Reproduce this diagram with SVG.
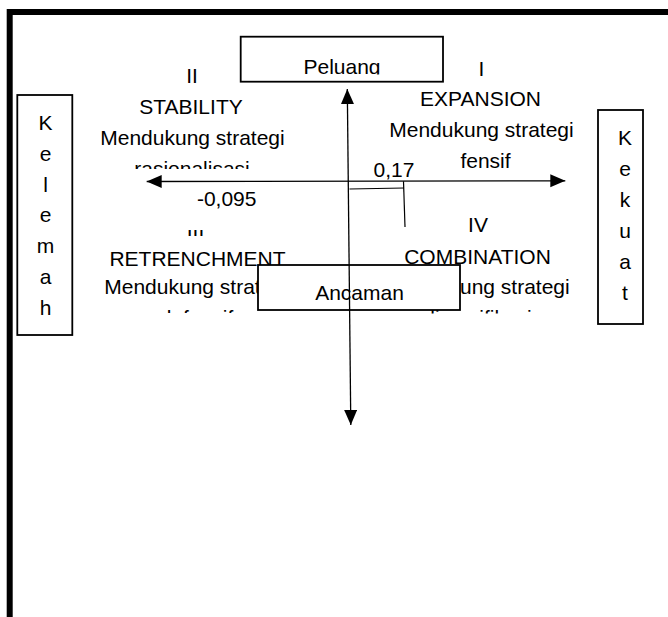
<svg xmlns="http://www.w3.org/2000/svg" width="668" height="617" viewBox="0 0 668 617">
<style>
  text { font-family: "Liberation Sans", Arial, sans-serif; font-size: 21px; fill: #000; text-anchor: middle; }
  .box { fill: #fff; stroke: #000; stroke-width: 1.8; }
  .axis { fill: none; stroke: #000; stroke-width: 1.3; }
  .thin { fill: none; stroke: #000; stroke-width: 1.2; }
</style>
<defs>
  <marker id="head" markerUnits="userSpaceOnUse" markerWidth="16" markerHeight="14" refX="15" refY="6.5" orient="auto-start-reverse">
    <path d="M0,0 L15,6.5 L0,13 Z" fill="#000"/>
  </marker>
  <clipPath id="clipII"><rect x="80" y="60" width="240" height="109"/></clipPath>
  <clipPath id="clipIII"><rect x="80" y="230" width="240" height="83"/></clipPath>
  <clipPath id="clipIV"><rect x="370" y="200" width="230" height="113.5"/></clipPath>
  <clipPath id="clipP"><rect x="242" y="38" width="200" height="36.5"/></clipPath>
</defs>
<rect x="0" y="0" width="668" height="617" fill="#fff"/>

<g id="frame">
  <path d="M9.7,620 V12 H672" fill="none" stroke="#000" stroke-width="6" stroke-linejoin="miter"/>
</g>

<g id="quadrant-II" clip-path="url(#clipII)">
  <text x="192" y="83">II</text>
  <text x="191" y="114">STABILITY</text>
  <text x="192.5" y="145">Mendukung strategi</text>
  <text x="192" y="176">rasionalisasi</text>
</g>

<g id="quadrant-I">
  <text x="481.5" y="76">I</text>
  <text x="480.5" y="106">EXPANSION</text>
  <text x="481.5" y="137">Mendukung strategi</text>
  <text x="485.5" y="168">fensif</text>
</g>

<g id="quadrant-III" clip-path="url(#clipIII)">
  <text x="195.5" y="236">III</text>
  <text x="197.5" y="266">RETRENCHMENT</text>
  <text x="196.5" y="294">Mendukung strategi</text>
  <text x="196.5" y="325">defensif</text>
</g>

<g id="quadrant-IV" clip-path="url(#clipIV)">
  <text x="478" y="232">IV</text>
  <text x="477.5" y="264">COMBINATION</text>
  <text x="477.5" y="294">Mendukung strategi</text>
  <text x="477.5" y="325">diversifikasi</text>
</g>

<g id="node-peluang">
  <rect class="box" x="240.7" y="36.7" width="202.3" height="45"/>
  <text x="342" y="74" clip-path="url(#clipP)">Peluang</text>
</g>

<g id="node-ancaman">
  <rect class="box" x="258" y="265" width="202" height="45"/>
  <text x="359.5" y="300">Ancaman</text>
</g>

<g id="node-kelemah">
  <rect class="box" x="17.3" y="95" width="55" height="240"/>
  <text x="45.5" y="130">K</text>
  <text x="45.5" y="160.8">e</text>
  <text x="45.5" y="191.5">l</text>
  <text x="45.5" y="222.3">e</text>
  <text x="45.5" y="253">m</text>
  <text x="45.5" y="283.8">a</text>
  <text x="45.5" y="314.5">h</text>
</g>

<g id="node-kekuat">
  <rect class="box" x="598" y="110" width="45" height="214"/>
  <text x="625" y="145">K</text>
  <text x="625" y="176">e</text>
  <text x="625" y="207">k</text>
  <text x="625" y="238">u</text>
  <text x="625" y="269">a</text>
  <text x="625" y="300">t</text>
</g>

<g id="labels">
  <text x="394" y="177">0,17</text>
  <text x="226.7" y="206">-0,095</text>
</g>

<g id="connectors">
  <line class="axis" x1="347.3" y1="89" x2="350.8" y2="425" marker-start="url(#head)" marker-end="url(#head)"/>
  <line class="axis" x1="146.7" y1="181.5" x2="565.3" y2="180.8" marker-start="url(#head)" marker-end="url(#head)"/>
  <path class="thin" d="M349.5,189 L404,188"/>
  <path class="thin" d="M403.5,181.3 L405,227"/>
</g>
</svg>
